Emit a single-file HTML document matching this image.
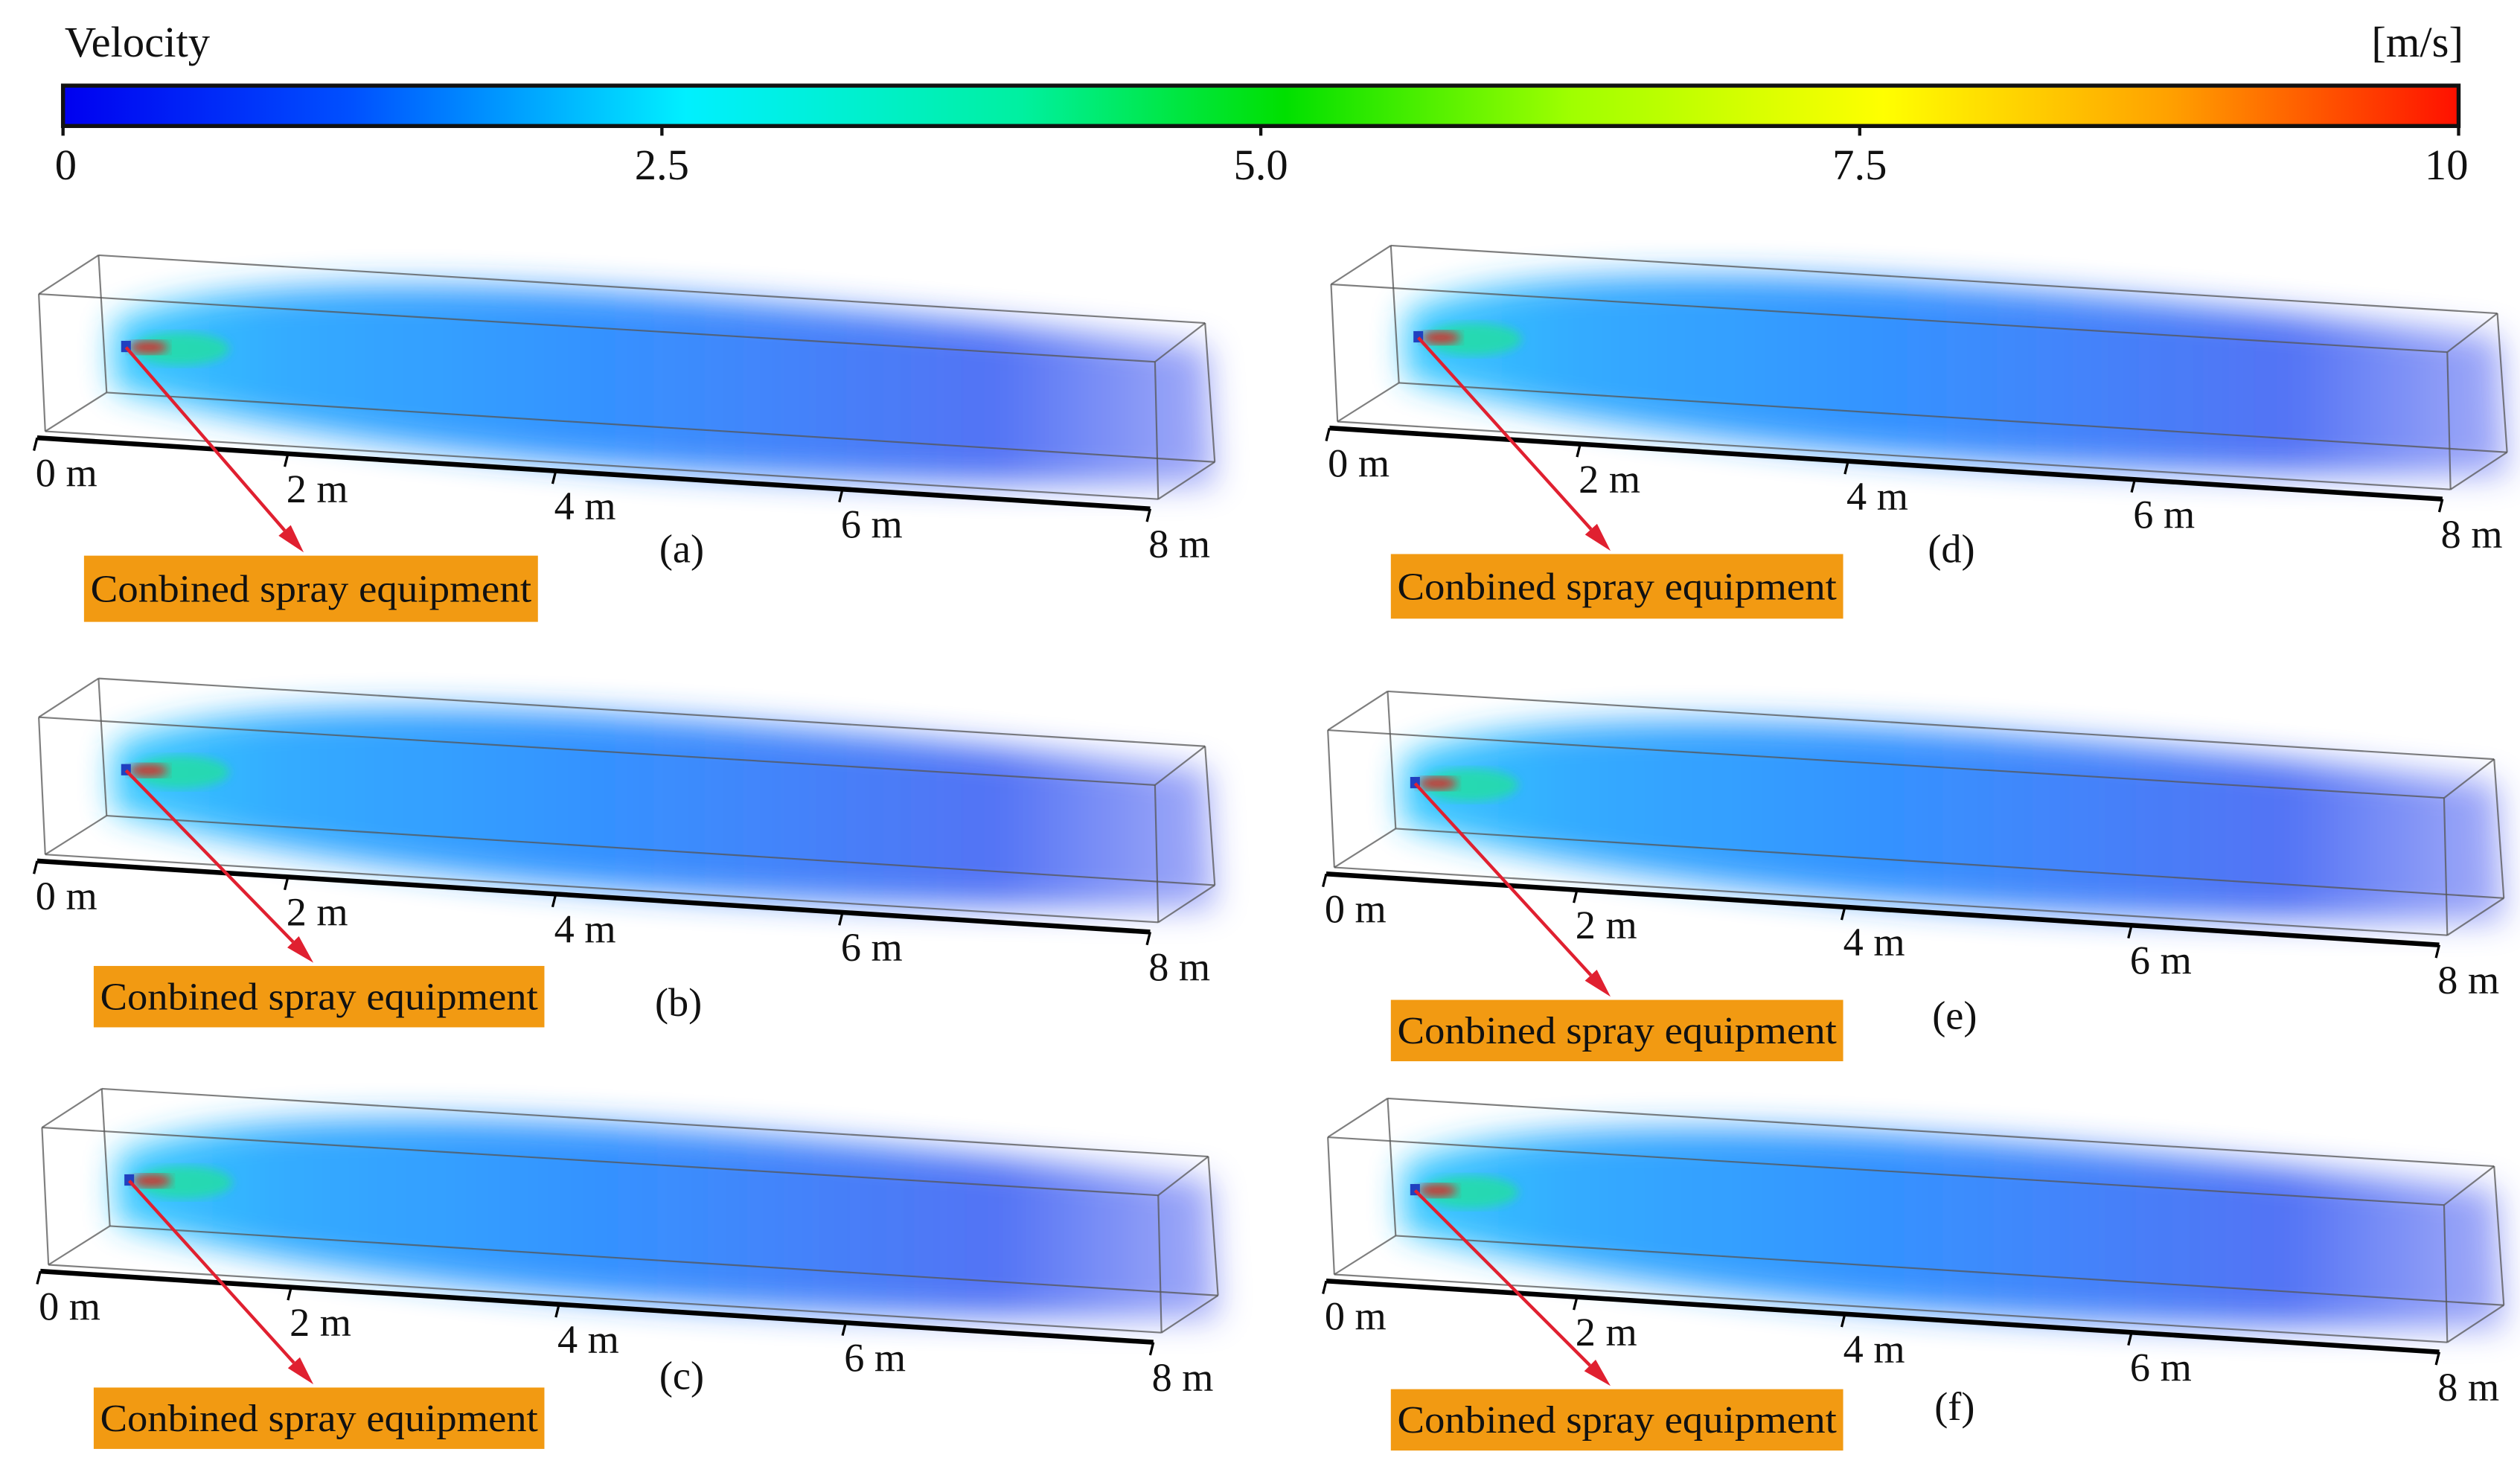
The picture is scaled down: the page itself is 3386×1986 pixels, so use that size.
<!DOCTYPE html>
<html><head><meta charset="utf-8">
<style>
html,body{margin:0;padding:0;background:#fff;}
svg{display:block;}
text{font-family:"Liberation Serif",serif;fill:#111;}
</style></head>
<body>
<svg id="fig" width="3386" height="1986" viewBox="0 0 1560 915" xmlns="http://www.w3.org/2000/svg">
<defs>
<linearGradient id="cbar" x1="0" x2="1" y1="0" y2="0">
<stop offset="0" stop-color="#0000f0"/>
<stop offset="0.12" stop-color="#0050ff"/>
<stop offset="0.26" stop-color="#00f0ff"/>
<stop offset="0.40" stop-color="#00f0a0"/>
<stop offset="0.51" stop-color="#00e000"/>
<stop offset="0.63" stop-color="#a0ff00"/>
<stop offset="0.76" stop-color="#ffff00"/>
<stop offset="0.88" stop-color="#ffa000"/>
<stop offset="1" stop-color="#ff1000"/>
</linearGradient>
<linearGradient id="plume" x1="0" x2="1" y1="0" y2="0">
<stop offset="0" stop-color="#30c8ff"/>
<stop offset="0.15" stop-color="#2aa8ff"/>
<stop offset="0.45" stop-color="#2c8cff"/>
<stop offset="0.8" stop-color="#4a6cf4"/>
<stop offset="1" stop-color="#a0a8f8"/>
</linearGradient>
<filter id="blur" x="-20%" y="-50%" width="140%" height="200%"><feGaussianBlur stdDeviation="10"/></filter>
<filter id="blur2"><feGaussianBlur stdDeviation="3"/></filter>
</defs>
<g id="colorbar"></g>
<g id="panels"></g>
</svg>
<script>
const NS="http://www.w3.org/2000/svg";
const cbTicks=[0,2.5,5.0,7.5,10];
const cbTickLabels=["0","2.5","5.0","7.5","10"];
const cbMin=0, cbMax=10;
const panelLabels=["(a)","(b)","(c)","(d)","(e)","(f)"];
const distTicks=[0,2,4,6,8];
const distTickLabels=["0 m","2 m","4 m","6 m","8 m"];

function mk(tag,attrs,parent,txt){const e=document.createElementNS(NS,tag);for(const k in attrs)e.setAttribute(k,attrs[k]);if(txt!==undefined)e.textContent=txt;parent.appendChild(e);return e;}

const cb=document.getElementById('colorbar');
const cbX0=39, cbX1=1522;
const cx=v=>cbX0+(v-cbMin)/(cbMax-cbMin)*(cbX1-cbX0);
const cbr=mk('rect',{x:cbX0,y:53,width:cbX1-cbX0,height:25,fill:'url(#cbar)',stroke:'#111','stroke-width':2.5},cb);


const vt=mk('text',{x:40,y:35,'font-size':27},cb,'Velocity');


const ut=mk('text',{x:1525,y:35,'font-size':27,'text-anchor':'end'},cb,'[m/s]');


cbTicks.forEach((v,i)=>{
  const t=mk('line',{x1:cx(v),x2:cx(v),y1:78,y2:84,stroke:'#111','stroke-width':2},cb);
  
  
  const anchor=i===0?'start':(i===cbTicks.length-1?'end':'middle');
  const l=mk('text',{x:cx(v)+(i===0?-5:0)+(i===cbTicks.length-1?6:0),y:111,'font-size':27,'text-anchor':anchor},cb,cbTickLabels[i]);
  
  
});

const panels=[
 {dx:0,dy:0,ox:52,oy:344,ow:281,oh:41,lx:422,ly:339},
 {dx:0,dy:262,ox:58,oy:598,ow:279,oh:38,lx:420,ly:620},
 {dx:2,dy:516,ox:58,oy:859,ow:279,oh:38,lx:422,ly:851},
 {dx:800,dy:-6,ox:861,oy:343,ow:280,oh:40,lx:1208,ly:339},
 {dx:798,dy:270,ox:861,oy:619,ow:280,oh:38,lx:1210,ly:628},
 {dx:798,dy:522,ox:861,oy:860,ow:280,oh:38,lx:1210,ly:870}
];
const pg=document.getElementById('panels');
const ax0=[23,271], ax1=[712,315];
const persp=1.146;
const axFrac=m=>m/(m+persp*(8-m));
const axPt=m=>{const f=axFrac(m);return [ax0[0]+(ax1[0]-ax0[0])*f, ax0[1]+(ax1[1]-ax0[1])*f];};
panels.forEach((p,i)=>{
  const g=mk('g',{},pg);
  
  
  const inner=mk('g',{transform:`translate(${p.dx},${p.dy})`},g);
  const pl=mk('path',{d:'M70,200 C150,160 400,175 748,215 L752,300 C500,300 250,290 70,240 Z',fill:'url(#plume)',filter:'url(#blur)',opacity:0.95},inner);
  
  
  const core=mk('ellipse',{cx:112,cy:216,rx:30,ry:10,fill:'#20e0a0',filter:'url(#blur2)',opacity:0.8},inner);
  
  
  const noz=mk('ellipse',{cx:92,cy:215,rx:12,ry:4,fill:'#d03030',filter:'url(#blur2)'},inner);
  
  
  const nb=mk('rect',{x:75,y:211,width:6,height:7,fill:'#2040c0'},inner);
  
  
  const edges=[[61,158,746,200],[24,182,715,224],[66,243,752,286],[28,267,717,309],
   [24,182,28,267],[61,158,66,243],[715,224,717,309],[746,200,752,286],
   [24,182,61,158],[715,224,746,200],[28,267,66,243],[717,309,752,286]];
  edges.forEach(e=>{
    const l=mk('line',{x1:e[0],y1:e[1],x2:e[2],y2:e[3],stroke:'#555','stroke-width':1,opacity:0.75},inner);
    
    
  });
  const al=mk('line',{x1:ax0[0],y1:ax0[1],x2:ax1[0],y2:ax1[1],stroke:'#000','stroke-width':3},inner);
  
  
  distTicks.forEach((m,j)=>{
    const [x,y]=axPt(m);
    const t=mk('line',{x1:x,y1:y,x2:x-2,y2:y+8,stroke:'#000','stroke-width':1.5},inner);
    
    
    const tl=mk('text',{x:x-1,y:y+30,'font-size':25},inner,distTickLabels[j]);
    
    
  });
  const tipX=p.ox+136, tipY=p.oy-2;
  const sx0=78+p.dx, sy0=215+p.dy;
  const ang=Math.atan2(tipY-sy0,tipX-sx0);
  const L=18;
  const bx=tipX-L*Math.cos(ang), by=tipY-L*Math.sin(ang);
  const ar=mk('line',{x1:sx0,y1:sy0,x2:bx,y2:by,stroke:'#e02030','stroke-width':2},g);
  
  
  const px=-Math.sin(ang)*5, py=Math.cos(ang)*5;
  const ah=mk('polygon',{points:`${tipX},${tipY} ${bx+px},${by+py} ${bx-px},${by-py}`,fill:'#e02030'},g);
  
  
  const ob=mk('rect',{x:p.ox,y:p.oy,width:p.ow,height:p.oh,fill:'#f29a12'},g);
  
  
  const ot=mk('text',{x:p.ox+4,y:p.oy+p.oh/2+8,'font-size':24,textLength:p.ow-8,lengthAdjust:'spacingAndGlyphs',style:'fill:#111'},g,'Conbined spray equipment');
  
  
  const pl2=mk('text',{x:p.lx,y:p.ly+9,'font-size':25,'text-anchor':'middle'},g,panelLabels[i]);
  
  
});
</script>
</body></html>
